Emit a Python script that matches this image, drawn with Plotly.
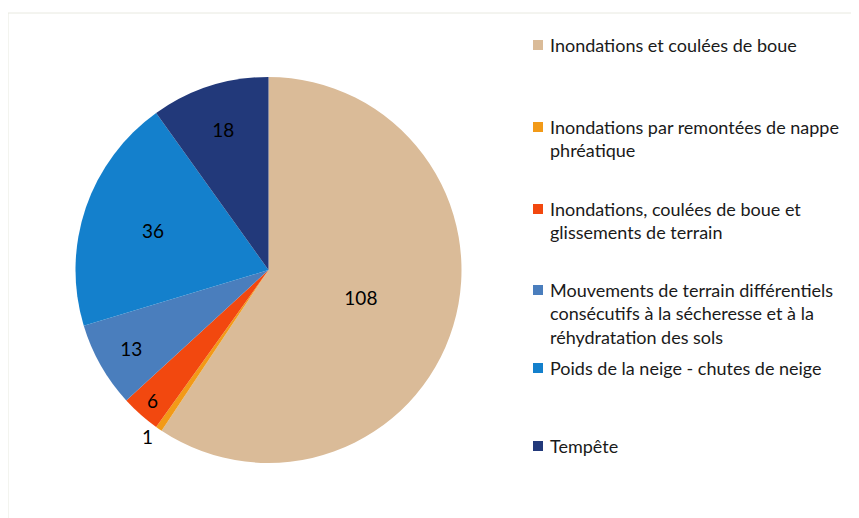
import plotly.graph_objects as go

labels = [
    "Inondations et coulées de boue",
    "Inondations par remontées de nappe<br>phréatique",
    "Inondations, coulées de boue et<br>glissements de terrain",
    "Mouvements de terrain différentiels<br>consécutifs à la sécheresse et à la<br>réhydratation des sols",
    "Poids de la neige - chutes de neige",
    "Tempête",
]
values = [108, 1, 6, 13, 36, 18]
colors = ["#DABB98", "#F29A18", "#F2480F", "#4A7EBD", "#1480CC", "#22397A"]
text_pos = ["inside", "outside", "inside", "inside", "inside", "inside"]

W, H = 859, 518
OFF = 8  # page body margin
FONT = "Lato, 'Open Sans', sans-serif"


def px(x):
    return (x - OFF) / W


def py(y):
    return 1 - (y - OFF) / H


fig = go.Figure(go.Pie(
    labels=labels,
    values=values,
    marker=dict(colors=colors, line=dict(width=0)),
    sort=False,
    direction="clockwise",
    rotation=0,
    textinfo="value",
    textposition=text_pos,
    insidetextorientation="horizontal",
    textfont=dict(family=FONT, size=19, color="#000000"),
    showlegend=False,
    domain=dict(x=[px(75), px(462)], y=[py(463), py(77)]),
))

legend_tops = [45, 127, 209, 290, 368, 446]
shapes = [dict(type="rect", xref="paper", yref="paper",
               x0=px(8), x1=1.05, y0=-0.05, y1=py(13),
               line=dict(color="#E8E9E0", width=1), fillcolor="rgba(0,0,0,0)")]
annotations = []
for lab, col, cy in zip(labels, colors, legend_tops):
    shapes.append(dict(type="rect", xref="paper", yref="paper",
                       x0=px(533), x1=px(543),
                       y0=py(cy + 5), y1=py(cy - 5),
                       line=dict(width=0), fillcolor=col))
    annotations.append(dict(x=px(548), y=py(cy - 13), xref="paper", yref="paper",
                            text=lab, showarrow=False, xanchor="left", yanchor="top",
                            align="left",
                            font=dict(family=FONT, size=18, color="#1a1a1a")))

fig.update_layout(
    width=W, height=H,
    margin=dict(l=0, r=0, t=0, b=0),
    paper_bgcolor="white",
    shapes=shapes,
    annotations=annotations,
)
fig.write_html("out.html")
